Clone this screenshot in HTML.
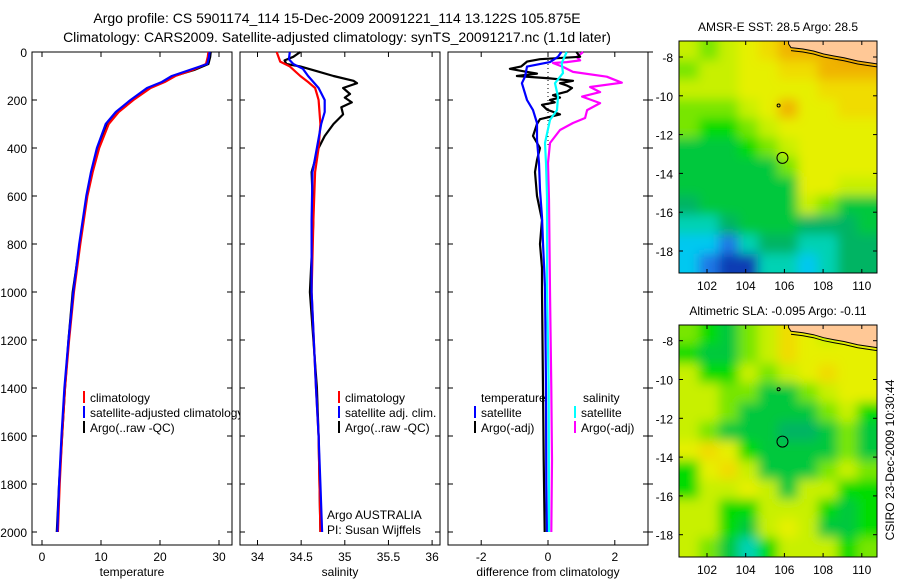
<!DOCTYPE html>
<html><head><meta charset="utf-8"><style>
html,body{margin:0;padding:0;background:#fff;}
svg{display:block;font-family:"Liberation Sans",Arial,sans-serif;}
</style></head><body>
<svg id="fig" width="900" height="580" viewBox="0 0 900 580" xmlns="http://www.w3.org/2000/svg">
<defs>
<clipPath id="c1"><rect x="0" y="0" width="240" height="580"/></clipPath>
<clipPath id="cm1"><rect x="679" y="41" width="198" height="232"/></clipPath>
<clipPath id="cm2"><rect x="679" y="325" width="198" height="232"/></clipPath>
<filter id="bl" x="-10%" y="-10%" width="120%" height="120%"><feGaussianBlur stdDeviation="5.5"/></filter>
</defs>
<text x="337" y="23" font-size="14" text-anchor="middle">Argo profile: CS 5901174_114 15-Dec-2009 20091221_114 13.122S 105.875E</text>
<text x="337" y="42" font-size="14" text-anchor="middle">Climatology: CARS2009. Satellite-adjusted climatology: synTS_20091217.nc (1.1d later)</text>
<g id="root"></g>
</svg>
<script>
// ---------- data ----------
const tDepth = [0,20,50,75,100,125,150,200,250,300,400,500,600,800,1000,1200,1400,1600,1800,2000];
const tClim  = [28.2,28.1,27.8,25.5,22.6,20.8,18.4,15.5,13.0,11.3,9.7,8.6,7.7,6.5,5.4,4.6,3.9,3.4,3.0,2.7];
const tSat   = [28.4,28.3,28.0,25.0,22.0,20.3,17.8,15.0,12.5,10.8,9.3,8.3,7.5,6.3,5.3,4.5,3.8,3.3,2.9,2.6];
const tArgo  = [28.6,28.5,28.2,25.8,22.4,20.5,18.0,15.3,12.7,11.0,9.5,8.4,7.6,6.4,5.2,4.5,3.9,3.4,2.9,2.5];

const sClimD = [0,40,60,100,125,150,175,200,300,400,500,700,1000,1400,1600,2000];
const sClim  = [34.22,34.26,34.37,34.49,34.58,34.66,34.68,34.70,34.72,34.70,34.66,34.64,34.62,34.67,34.70,34.72];
const sSatD  = [0,30,50,70,100,150,200,250,300,400,500,700,1000,1400,1600,1800,2000];
const sSat   = [34.37,34.36,34.41,34.52,34.58,34.70,34.77,34.77,34.73,34.68,34.63,34.62,34.62,34.67,34.70,34.72,34.74];
const sArgoD = [0,20,35,50,60,80,100,120,130,150,175,190,210,230,260,300,350,400,500,700,1000,1400,1600,2000];
const sArgo  = [34.49,34.41,34.31,34.33,34.49,34.68,34.87,35.10,35.14,34.98,35.06,35.00,35.08,34.96,34.98,34.87,34.77,34.70,34.62,34.64,34.60,34.68,34.70,34.72];

const dTArgoD = [0,20,30,40,60,70,80,90,100,110,120,130,140,150,165,180,190,200,210,220,240,260,280,300,350,400,450,500,600,700,800,900,1000,1400,1700,2000];
const dTArgo  = [0.85,0.96,-0.24,-0.63,-0.8,-1.14,-0.75,-0.33,-0.93,0.06,0.75,0.36,0.57,0.72,0.57,0.15,0.36,0.06,0.2,-0.18,-0.03,0.36,-0.24,-0.33,-0.45,-0.24,-0.33,-0.39,-0.33,-0.18,-0.24,-0.18,-0.18,-0.15,-0.13,-0.1];
const dTSatD  = [0,20,42,61,103,130,200,242,296,367,463,575,688,796,979,1400,1800,2000];
const dTSat   = [0.4,0.3,0.06,-0.63,-0.69,-0.78,-0.63,-0.45,-0.33,-0.33,-0.27,-0.24,-0.18,-0.15,-0.09,-0.06,-0.05,-0.03];
const dSSatD  = [0,46,88,130,186,242,283,379,463,604,979,1400,2000];
const dSSat   = [0.56,0.41,0.45,0.21,0.3,0.27,0.06,-0.09,-0.06,-0.03,-0.03,0.02,0.03];
const dSArgoD = [0,21,35,42,46,62,83,103,128,146,167,186,213,242,275,296,325,379,463,617,1000,1400,1700,2000];
const dSArgo  = [1.05,0.86,0.96,0.56,0.15,0.45,0.75,1.76,2.21,1.26,1.56,1.02,1.56,1.17,1.11,0.75,0.36,0.06,0.0,0.03,0.06,0.1,0.12,0.1];

const depthTicks = [0,200,400,600,800,1000,1200,1400,1600,1800,2000];
const tempTicks = [0,10,20,30];
const salTicks = [34,34.5,35,35.5,36];
const diffTicks = [-2,0,2];
const latTicks = [-8,-10,-12,-14,-16,-18];
const lonTicks = [102,104,106,108,110];

const palette = ["#0a3cb4","#1e78e6","#00c8f0","#00d2b4","#00b464","#00c83c","#00dc00","#78e600","#c8f000","#e6f000","#f0dc00","#f0b400","#e69600"];
const sstGrid = [
[8,7,8,9,10,11,11,11,12,12],
[7,8,8,9,9,10,10,11,11,11],
[8,8,8,9,9,9,9,10,10,10],
[7,7,7,8,9,11,9,9,10,10],
[7,6,6,7,8,9,9,9,9,9],
[5,5,5,6,7,8,9,9,9,9],
[5,5,5,5,5,7,9,9,9,9],
[5,5,5,5,5,5,9,9,8,8],
[4,5,5,5,5,5,8,7,5,5],
[3,3,4,5,5,5,4,4,4,5],
[2,2,1,3,4,4,3,3,4,4],
[2,1,0,0,3,3,2,3,4,4]];
const slaGrid = [
[7,6,5,7,8,10,9,8,9,9],
[6,5,5,7,8,10,9,9,9,9],
[8,6,6,8,7,8,9,10,9,9],
[8,8,7,7,5,5,7,8,9,9],
[8,8,7,5,5,5,5,7,8,6],
[8,7,5,5,5,4,4,5,7,5],
[9,10,9,6,5,5,5,5,7,5],
[6,9,10,8,5,5,5,7,8,7],
[6,8,8,9,8,5,8,8,6,6],
[8,8,6,6,8,8,8,6,5,6],
[8,8,6,5,8,9,8,5,5,6],
[8,7,5,3,6,8,8,8,6,7]];

// ---------- scales ----------
const NS="http://www.w3.org/2000/svg";
const root=document.getElementById('root');
const yD = d => 52 + d*0.24;
const xT = v => 42 + v*5.9;
const xS = v => 257.5 + (v-34)*87.3;
const xDf = v => 548 + v*33.4;
const lonX = lon => 707 + (lon-102)*19.35;
const latY1 = lat => 57 + (-8-lat)*19.4;
const latY2 = lat => 340.7 + (-8-lat)*19.4;

function mk(tag,attrs,parent){const e=document.createElementNS(NS,tag);for(const k in attrs)e.setAttribute(k,attrs[k]);(parent||root).appendChild(e);return e;}
function txt(x,y,s,size,anchor,parent){const e=mk('text',{x:x,y:y,'font-size':size,'text-anchor':anchor||'start'},parent);e.textContent=s;return e;}

const panels=[{x:32,name:'temperature-panel'},{x:240,name:'salinity-panel'},{x:448,name:'difference-panel'}];
panels.forEach(p=>{
  const r=mk('rect',{x:p.x,y:52,width:200,height:493,fill:'none',stroke:'#000','stroke-width':1});
  
  
  depthTicks.forEach(d=>{
    mk('line',{x1:p.x,x2:p.x+5,y1:yD(d),y2:yD(d),stroke:'#000'});
    mk('line',{x1:p.x+200,x2:p.x+195,y1:yD(d),y2:yD(d),stroke:'#000'});
  });
});
depthTicks.forEach(d=>{
  const t=txt(27,yD(d)+5,String(d),12,'end');
  
  
  mk('line',{x1:648,x2:653,y1:yD(d),y2:yD(d),stroke:'#000'});
});
function xticks(ticks,fx,lab){
  ticks.forEach(v=>{
    mk('line',{x1:fx(v),x2:fx(v),y1:545,y2:540,stroke:'#000'});
    mk('line',{x1:fx(v),x2:fx(v),y1:52,y2:57,stroke:'#000'});
    const t=txt(fx(v),561,String(v),12,'middle');
    
    
  });
}
xticks(tempTicks,xT,'temperature-tick-label');
xticks(salTicks,xS,'salinity-tick-label');
xticks(diffTicks,xDf,'difference-tick-label');
[[132,'temperature','x-axis-title-temperature'],[340,'salinity','x-axis-title-salinity'],[548,'difference from climatology','x-axis-title-difference']].forEach(a=>{
  const t=txt(a[0],576,a[1],12,'middle');
  
  
});
mk('line',{x1:xDf(0),x2:xDf(0),y1:52,y2:yD(400),stroke:'#000','stroke-dasharray':'1,3'});

function line(ds,vs,fx,col,name){
  const pts=ds.map((d,i)=>fx(vs[i]).toFixed(1)+','+yD(d).toFixed(1)).join(' ');
  const e=mk('polyline',{points:pts,fill:'none',stroke:col,'stroke-width':2.2,'stroke-linejoin':'round'});
  
  
}
line(tDepth,tArgo,xT,'#000','temp-argo-line');
line(tDepth,tClim,xT,'#f00','temp-climatology-line');
line(tDepth,tSat,xT,'#00f','temp-satellite-line');
line(sArgoD,sArgo,xS,'#000','sal-argo-line');
line(sClimD,sClim,xS,'#f00','sal-climatology-line');
line(sSatD,sSat,xS,'#00f','sal-satellite-line');
line(dSArgoD,dSArgo,xDf,'#f0f','diff-sal-argo-line');
line(dTArgoD,dTArgo,xDf,'#000','diff-temp-argo-line');
line(dTSatD,dTSat,xDf,'#00f','diff-temp-satellite-line');
line(dSSatD,dSSat,xDf,'#0ff','diff-sal-satellite-line');

function leg(x,y,col,label,name,parent){
  const g=mk('g',{},parent);
  
  
  mk('rect',{x:x,y:y-11,width:2,height:12,fill:col},g);
  txt(x+7,y,label,12,'start',g);
}
const lg1=mk('g',{'clip-path':'url(#c1)'});
leg(83,402,'#f00','climatology','legend-entry-climatology',lg1);
leg(83,417,'#00f','satellite-adjusted climatology','legend-entry-satellite-adjusted',lg1);
leg(83,432,'#000','Argo(..raw -QC)','legend-entry-argo',lg1);
leg(338,402,'#f00','climatology','legend-entry-sal-climatology');
leg(338,417,'#00f','satellite adj. clim.','legend-entry-sal-satellite');
leg(338,432,'#000','Argo(..raw -QC)','legend-entry-sal-argo');
txt(481,402,'temperature',12,'start');
txt(583,402,'salinity',12,'start');
leg(474,417,'#00f','satellite','legend-entry-diff-temp-satellite');
leg(474,432,'#000','Argo(-adj)','legend-entry-diff-temp-argo');
leg(574,417,'#0ff','satellite','legend-entry-diff-sal-satellite');
leg(574,432,'#f0f','Argo(-adj)','legend-entry-diff-sal-argo');
txt(327,519,'Argo AUSTRALIA',12,'start');
txt(327,534,'PI: Susan Wijffels',12,'start');

function map(grid,top,clip,latY,title,name){
  const g=mk('g',{'clip-path':'url('+clip+')'});
  
  
  const inner=mk('g',{filter:'url(#bl)'},g);
  const cw=198/10,ch=232/12;
  grid.forEach((row,r)=>row.forEach((v,c)=>{
    let x=679+c*cw,y=top+r*ch,w=cw+0.6,h=ch+0.6;
    if(c==0){x-=14;w+=14;} if(c==9)w+=14; if(r==0){y-=14;h+=14;} if(r==11)h+=14;
    const cell=mk('rect',{x:x,y:y,width:w,height:h,fill:palette[v]},inner);
    
  }));
  const off=latY(-8)-57;
  const land=[[788.6,41],[788.6,44],[791,47.6],[803,49],[813.5,51],[823.7,54],[834,56],[844,57.8],[857.7,61],[871,63],[882,64.6],[882,30]];
  mk('polygon',{points:land.map(p=>p[0]+','+(p[1]+off)).join(' '),fill:'#ffc896',stroke:'#000','stroke-width':1},g);
  mk('polyline',{points:land.slice(2,11).map(p=>p[0]+','+(p[1]+off+3)).join(' '),fill:'none',stroke:'#000','stroke-width':1},g);
  mk('circle',{cx:lonX(105.7),cy:latY(-10.5),r:1.5,fill:'none',stroke:'#000'},g);
  const mk2=mk('circle',{cx:lonX(105.9),cy:latY(-13.2),r:5.5,fill:'none',stroke:'#000'},g);
  
  mk('rect',{x:679,y:top,width:198,height:232,fill:'none',stroke:'#000'});
  latTicks.forEach(l=>{
    mk('line',{x1:679,x2:683,y1:latY(l),y2:latY(l),stroke:'#000'});
    mk('line',{x1:877,x2:873,y1:latY(l),y2:latY(l),stroke:'#000'});
    const t=txt(673,latY(l)+5,String(l),12,'end');
    
  });
  lonTicks.forEach(l=>{
    mk('line',{x1:lonX(l),x2:lonX(l),y1:top,y2:top+4,stroke:'#000'});
    mk('line',{x1:lonX(l),x2:lonX(l),y1:top+232,y2:top+228,stroke:'#000'});
    const t=txt(lonX(l),top+249,String(l),12,'middle');
    
  });
  const tt=txt(778,top-10,title,12,'middle');
  
}
map(sstGrid,41,'#cm1',latY1,'AMSR-E SST: 28.5 Argo: 28.5','sst-map');
map(slaGrid,325,'#cm2',latY2,'Altimetric SLA: -0.095 Argo: -0.11','sla-map');
const cs=txt(0,0,'CSIRO 23-Dec-2009 10:30:44',12,'middle');
cs.setAttribute('transform','translate(894,460) rotate(-90)');


</script>
</body></html>
